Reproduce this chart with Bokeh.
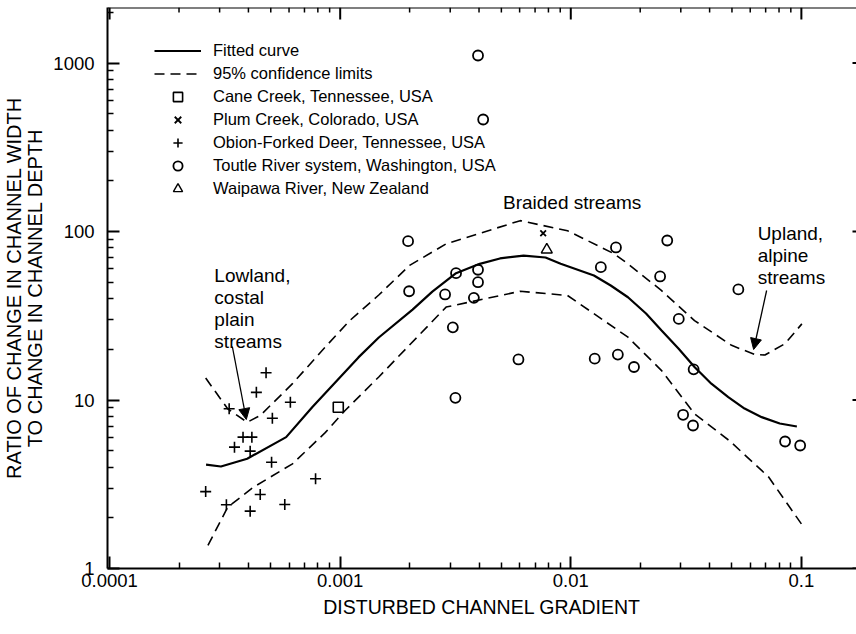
from bokeh.plotting import figure
from bokeh.models import (FixedTicker, CustomJSTickFormatter, Legend, LegendItem,
                          Label, Arrow, NormalHead, Range1d, Span)
from bokeh.embed import file_html
from bokeh.resources import INLINE

# ---------------- data ----------------
obion_x = [4.77e-4, 4.33e-4, 6.08e-4, 3.30e-4, 5.08e-4, 3.79e-4, 4.14e-4, 3.48e-4,
           4.07e-4, 5.04e-4, 7.82e-4, 2.61e-4, 4.50e-4, 3.21e-4, 5.75e-4, 4.07e-4]
obion_y = [14.5, 11.1, 9.70, 8.87, 7.80, 6.02, 6.02, 5.25,
           4.97, 4.27, 3.41, 2.86, 2.75, 2.39, 2.40, 2.19]

cane_x = [9.81e-4]
cane_y = [9.06]

plum_x = [7.59e-3]
plum_y = [97.7]

waipawa_x = [7.87e-3]
waipawa_y = [77.9]

toutle_x = [3.96e-3, 4.17e-3, 1.97e-3, 1.99e-3, 3.18e-3, 3.96e-3, 3.96e-3, 2.85e-3,
            3.80e-3, 3.08e-3, 5.93e-3, 3.16e-3, 1.57e-2, 1.35e-2, 1.27e-2, 1.60e-2,
            2.62e-2, 2.44e-2, 5.33e-2, 2.94e-2, 1.88e-2, 3.41e-2, 3.07e-2, 3.39e-2,
            8.50e-2, 9.88e-2]
toutle_y = [1108, 462, 87.6, 44.2, 56.6, 59.3, 50.0, 42.3,
            40.4, 27.0, 17.4, 10.3, 80.4, 61.4, 17.6, 18.6,
            88.4, 54.1, 45.3, 30.3, 15.7, 15.2, 8.17, 7.06,
            5.67, 5.37]

fit_x = [2.62e-4, 3.04e-4, 3.95e-4, 5.83e-4, 7.56e-4, 1.20e-3, 1.47e-3, 2.06e-3,
         2.51e-3, 3.18e-3, 4.03e-3, 4.93e-3, 6.24e-3, 7.77e-3, 9.04e-3, 1.26e-2,
         1.49e-2, 1.77e-2, 2.12e-2, 2.47e-2, 2.93e-2, 3.44e-2, 4.07e-2, 4.82e-2,
         5.67e-2, 6.73e-2, 8.06e-2, 9.56e-2]
fit_y = [4.13, 4.03, 4.48, 6.02, 9.06, 17.9, 23.5, 34.4,
         44.0, 56.6, 64.3, 69.2, 72.0, 70.1, 64.3, 54.8,
         47.8, 40.7, 32.6, 25.9, 20.2, 15.7, 12.5, 10.4,
         8.9, 7.91, 7.25, 6.96]

upper_x = [2.61e-4, 3.25e-4, 3.95e-4, 4.50e-4, 6.21e-4, 8.61e-4, 1.10e-3, 1.47e-3,
           2.00e-3, 2.88e-3, 6.04e-3, 9.68e-3, 1.54e-2, 1.77e-2, 2.47e-2, 3.44e-2,
           4.98e-2, 6.29e-2, 6.95e-2, 8.50e-2, 1.005e-1]
upper_y = [13.5, 8.87, 7.38, 8.09, 12.5, 20.6, 29.6, 42.0,
           62.9, 84.5, 116, 101, 73.8, 64.3, 44.7, 29.6,
           21.1, 18.6, 18.5, 21.6, 28.3]

lower_x = [2.67e-4, 3.25e-4, 4.21e-4, 6.21e-4, 8.61e-4, 1.05e-3, 1.47e-3, 2.88e-3,
           6.04e-3, 9.68e-3, 1.77e-2, 2.47e-2, 3.44e-2, 4.90e-2, 7.20e-2, 1.00e-1]
lower_y = [1.37, 2.31, 3.04, 4.18, 6.4, 8.66, 13.7, 35.6,
           44.2, 41.7, 23.6, 15.0, 8.28, 5.7, 3.5, 1.84]

x_major = [1e-4, 1e-3, 1e-2, 1e-1]
y_major = [1, 10, 100, 1000]

legend_labels = ["Fitted curve", "95% confidence limits", "Cane Creek, Tennessee, USA",
                 "Plum Creek, Colorado, USA", "Obion-Forked Deer, Tennessee, USA",
                 "Toutle River system, Washington, USA", "Waipawa River, New Zealand"]

# ---------------- layout ----------------
FONT = "Liberation Sans"
FRAME_L, FRAME_R, FRAME_T, FRAME_B = 106, 856, 7, 568
X_DEC = 230.9          # pixels per decade (x)
X_START_LOG = -4.0091
Y_DEC = 168.5          # pixels per decade (y)

x_start = 10 ** X_START_LOG
x_end = 10 ** (X_START_LOG + (FRAME_R - FRAME_L) / X_DEC)
y_start = 1.0
y_end = 10 ** ((FRAME_B - FRAME_T) / Y_DEC)


def sx(px):
    return 10 ** (X_START_LOG + (px - FRAME_L) / X_DEC)


def sy(py):
    return 10 ** ((FRAME_B - py) / Y_DEC)


p = figure(width=856, height=634, x_axis_type="log", y_axis_type="log",
           x_range=Range1d(x_start, x_end), y_range=Range1d(y_start, y_end),
           output_backend="svg", toolbar_location=None,
           min_border_left=FRAME_L, min_border_right=0,
           min_border_top=FRAME_T, min_border_bottom=634 - FRAME_B)
p.grid.visible = False
p.outline_line_color = None
p.background_fill_color = "white"
p.border_fill_color = "white"

x_minor = [m * 10.0 ** k for k in range(-4, 0) for m in range(2, 10)]
y_minor = [m * 10.0 ** k for k in range(0, 4) for m in range(2, 10)]

fmt = CustomJSTickFormatter(code="return String(tick);")


def style(ax, ticks, minor):
    ax.ticker = FixedTicker(ticks=ticks, minor_ticks=minor)
    ax.formatter = fmt
    ax.axis_line_width = 2
    ax.axis_line_color = "black"
    ax.major_tick_in = 12
    ax.major_tick_out = 0
    ax.minor_tick_in = 6
    ax.minor_tick_out = 0
    ax.major_tick_line_width = 2
    ax.minor_tick_line_width = 1.5
    ax.major_label_text_font = FONT
    ax.major_label_text_font_size = "18.5px"
    ax.major_label_text_color = "black"
    ax.axis_label_text_font = FONT
    ax.axis_label_text_font_style = "normal"
    ax.axis_label_text_color = "black"


xa = p.xaxis[0]
style(xa, x_major, x_minor)
xa.major_label_standoff = 5
xa.axis_label = "DISTURBED CHANNEL GRADIENT"
xa.axis_label_text_font_size = "19.5px"
xa.axis_label_standoff = 6

ya = p.yaxis[0]
style(ya, y_major, y_minor)
ya.major_label_standoff = 13
ya.axis_label = "RATIO OF CHANGE IN CHANNEL WIDTH\nTO CHANGE IN CHANNEL DEPTH"
ya.axis_label_text_font_size = "20px"
ya.axis_label_text_line_height = 0.95
ya.axis_label_standoff = 4

# top frame line with inward ticks, right side inward ticks (no labels)
p.add_layout(Span(location=y_end, dimension="width", line_color="black", line_width=2))
p.ray(x=x_major, y=[y_end] * len(x_major), length=12, length_units="screen",
      angle=-90, angle_units="deg", line_color="black", line_width=2)
p.ray(x=x_minor, y=[y_end] * len(x_minor), length=5, length_units="screen",
      angle=-90, angle_units="deg", line_color="black", line_width=1.5)
p.ray(x=[x_end] * len(y_major), y=y_major, length=4, length_units="screen",
      angle=180, angle_units="deg", line_color="black", line_width=2)

# ---------------- curves ----------------
r_fit = p.line(fit_x, fit_y, line_color="black", line_width=2.2)
r_up = p.line(upper_x, upper_y, line_color="black", line_width=1.6, line_dash="10 6")
p.line(lower_x, lower_y, line_color="black", line_width=1.6, line_dash="10 6")

# ---------------- points ----------------
r_cane = p.scatter(cane_x, cane_y, marker="square", size=10, fill_color=None,
                   line_color="black", line_width=1.6)
r_plum = p.scatter(plum_x, plum_y, marker="x", size=8, line_color="black", line_width=1.8)
r_obion = p.scatter(obion_x, obion_y, marker="cross", size=11, line_color="black",
                    line_width=1.6)
r_toutle = p.scatter(toutle_x, toutle_y, marker="circle", size=10, fill_color=None,
                     line_color="black", line_width=1.8)
r_waip = p.scatter(waipawa_x, waipawa_y, marker="triangle", size=11, fill_color=None,
                   line_color="black", line_width=1.4)

renderers = [r_fit, r_up, r_cane, r_plum, r_obion, r_toutle, r_waip]
legend = Legend(items=[LegendItem(label=lab, renderers=[r]) for lab, r in zip(legend_labels, renderers)],
                location=(47, 368), glyph_width=47, glyph_height=23, label_height=23,
                spacing=0, padding=0, margin=0, label_standoff=12,
                border_line_color=None, background_fill_alpha=0,
                label_text_font=FONT, label_text_font_size="16.5px", label_text_color="black")
p.add_layout(legend)

# ---------------- annotations ----------------
ann = dict(text_font=FONT, text_font_size="19px", text_color="black", text_line_height=1.05)
p.add_layout(Label(x=sx(502), y=sy(202), text="Braided streams", text_baseline="middle", **ann))
p.add_layout(Label(x=sx(757), y=sy(222), text="Upland,\nalpine\nstreams", text_baseline="top", **ann))
p.add_layout(Label(x=sx(213), y=sy(264), text="Lowland,\ncostal\nplain\nstreams", text_baseline="top", **ann))

head = dict(size=11, fill_color="black", line_color="black", line_width=1)
p.add_layout(Arrow(x_start=sx(231), y_start=sy(346), x_end=sx(245), y_end=sy(419),
                   line_width=1.3, line_color="black", end=NormalHead(**head)))
p.add_layout(Arrow(x_start=sx(766), y_start=sy(290), x_end=sx(753), y_end=sy(349),
                   line_width=1.3, line_color="black", end=NormalHead(**head)))

open("out.html", "w").write(file_html(p, INLINE))
